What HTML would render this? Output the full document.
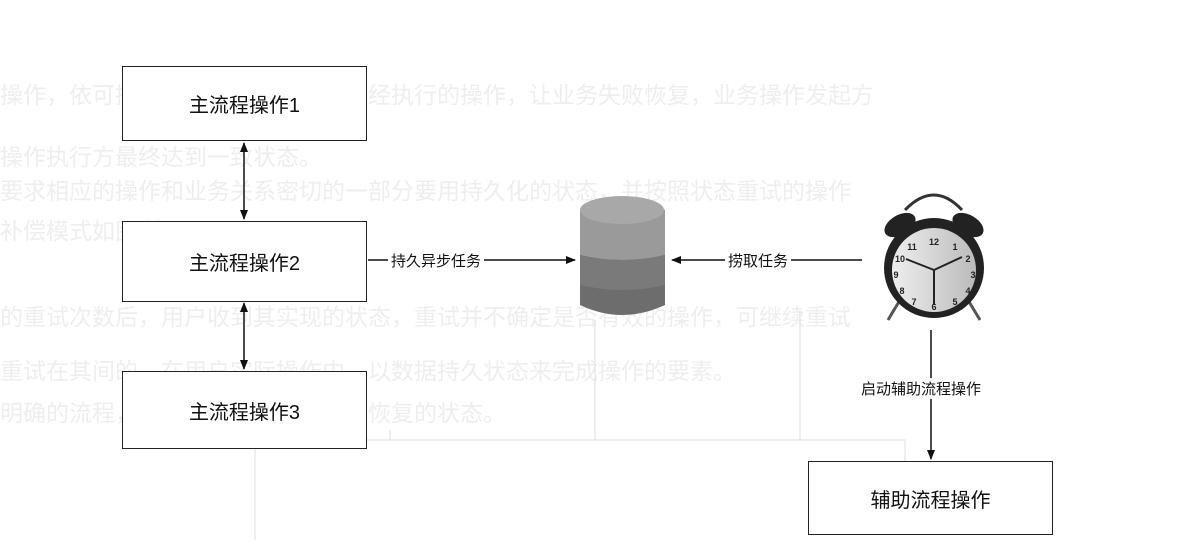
<!DOCTYPE html>
<html><head><meta charset="utf-8"><style>
body{margin:0;width:1180px;height:554px;background:#fff;position:relative;overflow:hidden;font-family:"Liberation Sans","Noto Sans CJK SC",sans-serif}
.box{position:absolute;border:1.5px solid #222;background:#fff;display:flex;align-items:center;justify-content:center;font-size:20px;color:#111;box-sizing:border-box}
.bg{position:absolute;color:#eeeeee;font-size:23px;white-space:nowrap}
.lbl{position:absolute;font-size:15px;color:#111;background:#fff;padding:0 3px;white-space:nowrap}
</style></head><body>
<div class="bg" style="left:0;top:76px">操作，依可操作不能执行或者回滚已经执行的操作，让业务失败恢复，业务操作发起方</div>
<div class="bg" style="left:0;top:138px">操作执行方最终达到一致状态。</div>
<div class="bg" style="left:0;top:172px">要求相应的操作和业务关系密切的一部分要用持久化的状态，并按照状态重试的操作</div>
<div class="bg" style="left:0;top:212px">补偿模式如图所示。</div>
<div class="bg" style="left:0;top:298px">的重试次数后，用户收到其实现的状态，重试并不确定是否有效的操作，可继续重试</div>
<div class="bg" style="left:0;top:352px">重试在其间的，在用户实际操作中，以数据持久状态来完成操作的要素。</div>
<div class="bg" style="left:0;top:394px">明确的流程，进行持续，执行上完全恢复的状态。</div>
<svg width="1180" height="554" style="position:absolute;left:0;top:0">
<defs><marker id="a" markerWidth="10" markerHeight="10" refX="9" refY="5" orient="auto-start-reverse" markerUnits="userSpaceOnUse"><path d="M0,1 L10,5 L0,9 Z" fill="#111"/></marker>
<linearGradient id="cl" x1="0" x2="1"><stop offset="0" stop-color="#eee"/><stop offset="1" stop-color="#bbb"/></linearGradient></defs>
<g stroke="#ddd" fill="none" stroke-width="1"><path d="M255 440 V540 M255 440 H905 V462 M390 430 v10 M595 430 v10 M800 430 v10 M595 320 V430 M800 310 V430"/></g>
<g stroke="#111" stroke-width="1.5" fill="none">
<line x1="244" y1="143" x2="244" y2="219" marker-start="url(#a)" marker-end="url(#a)"/>
<line x1="244" y1="303" x2="244" y2="369" marker-start="url(#a)" marker-end="url(#a)"/>
<line x1="368" y1="260" x2="575" y2="260" marker-end="url(#a)"/>
<line x1="862" y1="260" x2="672" y2="260" marker-end="url(#a)"/>
<line x1="931" y1="330" x2="931" y2="459" marker-end="url(#a)"/>
</g>
<path d="M580 210 Q622 190 665 210 V305 Q622 325 580 305Z" fill="#6d6d6d"/>
<path d="M580 210 Q622 190 665 210 V255 Q622 265 580 255Z" fill="#9a9a9a"/>
<path d="M580 255 Q622 265 665 255 V285 Q622 295 580 285Z" fill="#7a7a7a"/>
<ellipse cx="622" cy="210" rx="42" ry="14" fill="#a8a8a8"/>
<g>
<line x1="900" y1="300" x2="888" y2="320" stroke="#555" stroke-width="3"/>
<line x1="968" y1="300" x2="980" y2="320" stroke="#555" stroke-width="3"/>
<path d="M905 210 Q934 180 962 210" stroke="#333" stroke-width="3" fill="none"/>
<ellipse cx="900" cy="225" rx="17" ry="10" transform="rotate(-30 900 225)" fill="#222"/>
<ellipse cx="968" cy="225" rx="17" ry="10" transform="rotate(30 968 225)" fill="#222"/>
<circle cx="934" cy="268" r="50" fill="#222"/>
<circle cx="934" cy="270" r="42" fill="url(#cl)"/>
<g font-size="9" font-weight="bold" fill="#222" text-anchor="middle" font-family="Liberation Sans">
<text x="934" y="245">12</text><text x="955" y="250">1</text><text x="968" y="262">2</text><text x="973" y="278">3</text><text x="968" y="294">4</text><text x="955" y="305">5</text><text x="934" y="310">6</text><text x="914" y="305">7</text><text x="902" y="294">8</text><text x="896" y="278">9</text><text x="900" y="262">10</text><text x="912" y="250">11</text></g>
<path d="M934 270 L906 259 M934 270 L962 257 M934 270 V305" stroke="#222" stroke-width="2"/>
</g>
</svg>
<div class="box" style="left:122px;top:66px;width:245px;height:75px">主流程操作1</div>
<div class="box" style="left:122px;top:221px;width:245px;height:81px">主流程操作2</div>
<div class="box" style="left:122px;top:371px;width:245px;height:78px">主流程操作3</div>
<div class="box" style="left:808px;top:461px;width:245px;height:74px">辅助流程操作</div>
<div class="lbl" style="left:388px;top:250px">持久异步任务</div>
<div class="lbl" style="left:725px;top:250px">捞取任务</div>
<div class="lbl" style="left:858px;top:378px">启动辅助流程操作</div>
</body></html>
